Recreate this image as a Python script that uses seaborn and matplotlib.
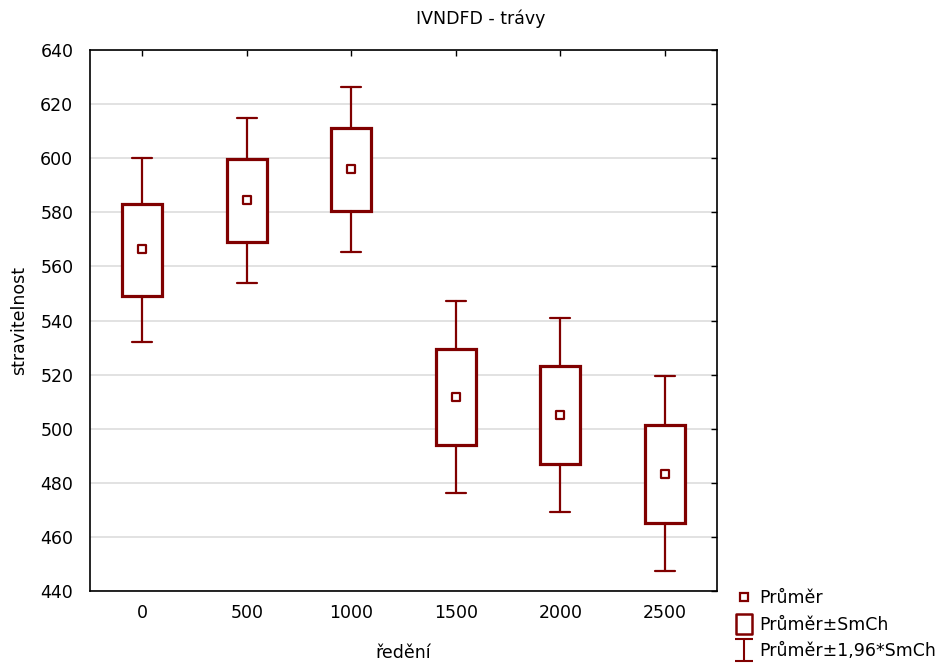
import matplotlib
matplotlib.use("Agg")
import matplotlib.pyplot as plt
import seaborn as sns
import pandas as pd
from matplotlib.lines import Line2D
from matplotlib.path import Path

# data
categories = ["0", "500", "1000", "1500", "2000", "2500"]
means = [566.3, 584.7, 595.9, 511.6, 504.9, 483.4]
box_low = [549.0, 569.2, 580.6, 493.9, 487.1, 465.3]
box_high = [583.1, 599.8, 611.2, 529.3, 523.0, 501.2]
whisk_low = [531.9, 554.0, 565.4, 476.2, 469.2, 447.3]
whisk_high = [600.2, 615.0, 626.5, 547.1, 540.9, 519.3]
y_ticks = [440, 460, 480, 500, 520, 540, 560, 580, 600, 620, 640]

RED = "#800000"
FS = 12.5

sns.set_style("white")
plt.rcParams["font.family"] = ["DejaVu Sans"]
plt.rcParams["text.color"] = "black"
plt.rcParams["axes.labelcolor"] = "black"

fig = plt.figure(figsize=(9.41, 6.64), dpi=100)
ax = fig.add_axes([90 / 941, 1 - 591 / 664, (717 - 90) / 941, (591 - 50) / 664])

pos = list(range(len(categories)))
stats = []
for i in pos:
    stats.append(dict(med=means[i], q1=box_low[i], q3=box_high[i],
                      whislo=whisk_low[i], whishi=whisk_high[i], fliers=[]))

ax.bxp(stats, positions=pos, widths=0.38, capwidths=0.19, showfliers=False,
       patch_artist=True,
       boxprops=dict(facecolor="white", edgecolor=RED, linewidth=2.3),
       whiskerprops=dict(color=RED, linewidth=1.6),
       capprops=dict(color=RED, linewidth=1.6),
       medianprops=dict(linewidth=0, color="none"),
       zorder=3)

df = pd.DataFrame({"x": pos, "mean": means})
sns.scatterplot(data=df, x="x", y="mean", marker="s", s=38, facecolor="white",
                edgecolor=RED, linewidth=1.6, ax=ax, zorder=4, legend=False)

ax.set_xlim(-0.5, 5.5)
ax.set_ylim(440, 640)
ax.set_xticks(pos)
ax.set_xticklabels(categories)
ax.set_yticks(y_ticks)
ax.yaxis.grid(True, color="#dddddd", linewidth=1.2, zorder=0)
ax.xaxis.grid(False)
ax.set_axisbelow(True)
for s in ax.spines.values():
    s.set_visible(True)
    s.set_color("black")
    s.set_linewidth(1.2)
ax.tick_params(axis="both", direction="in", length=4, width=1, colors="black",
               labelsize=FS, top=True, right=True, labeltop=False, labelright=False,
               pad=12)
ax.tick_params(axis="x", pad=9)
ax.set_xlabel("ředění", fontsize=FS, labelpad=16)
ax.set_ylabel("stravitelnost", fontsize=FS, labelpad=9)
fig.text(481 / 941, 1 - 19 / 664, "IVNDFD - trávy", fontsize=FS, ha="center", va="center")

ibar = Path([(-0.4, -0.5), (0.4, -0.5), (0, -0.5), (0, 0.5), (-0.4, 0.5), (0.4, 0.5)],
            [Path.MOVETO, Path.LINETO, Path.MOVETO, Path.LINETO, Path.MOVETO, Path.LINETO])
rect = Path([(-0.4, -0.5), (0.4, -0.5), (0.4, 0.5), (-0.4, 0.5), (-0.4, -0.5)],
            [Path.MOVETO, Path.LINETO, Path.LINETO, Path.LINETO, Path.CLOSEPOLY])
handles = [
    Line2D([], [], marker="s", markersize=6, markerfacecolor="white",
           markeredgecolor=RED, markeredgewidth=1.6, linestyle="none"),
    Line2D([], [], marker=rect, markersize=15, markerfacecolor="white",
           markeredgecolor=RED, markeredgewidth=1.8, linestyle="none"),
    Line2D([], [], marker=ibar, markersize=16, markerfacecolor="none",
           markeredgecolor=RED, markeredgewidth=1.5, linestyle="none"),
]
labels = ["Průměr", "Průměr±SmCh", "Průměr±1,96*SmCh"]
fig.legend(handles, labels, loc="lower left", bbox_to_anchor=(724 / 941, -0.013),
           frameon=False, fontsize=FS, handlelength=0.9, handletextpad=0.45,
           labelspacing=0.5, borderpad=0.2)

fig.savefig("out.png", dpi=100)
